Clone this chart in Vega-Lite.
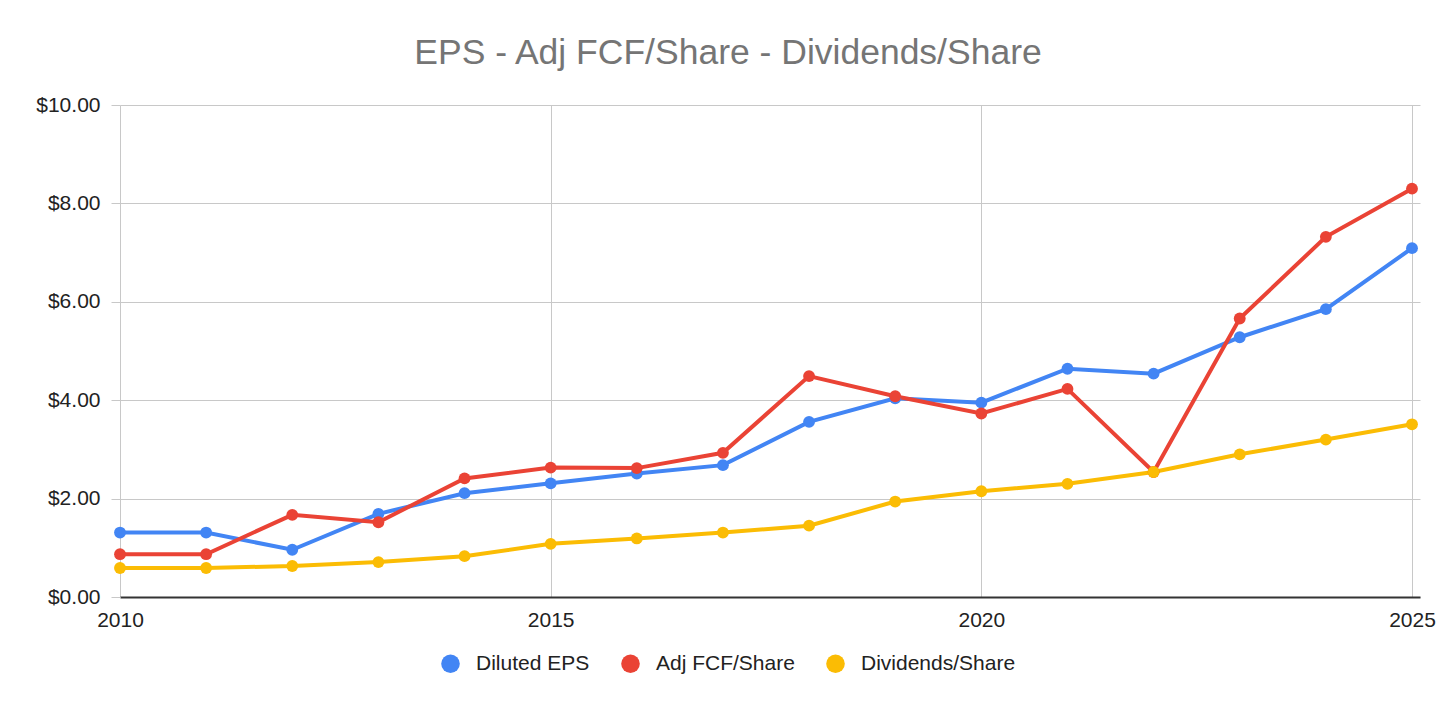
{
  "$schema": "https://vega.github.io/schema/vega-lite/v6.json",
  "width": 1300,
  "height": 492,
  "autosize": {"type": "none"},
  "padding": {"left": 120, "top": 105, "right": 36, "bottom": 113},
  "background": "white",
  "title": {
    "text": "EPS - Adj FCF/Share - Dividends/Share",
    "font": "Liberation Sans",
    "fontSize": 35.5,
    "fontWeight": "normal",
    "color": "#757575",
    "anchor": "middle",
    "dx": -42,
    "offset": 23
  },
  "data": {
    "values": [
      {"year": 2010, "series": "Diluted EPS", "value": 1.31},
      {"year": 2011, "series": "Diluted EPS", "value": 1.31},
      {"year": 2012, "series": "Diluted EPS", "value": 0.96},
      {"year": 2013, "series": "Diluted EPS", "value": 1.69},
      {"year": 2014, "series": "Diluted EPS", "value": 2.11},
      {"year": 2015, "series": "Diluted EPS", "value": 2.31},
      {"year": 2016, "series": "Diluted EPS", "value": 2.51},
      {"year": 2017, "series": "Diluted EPS", "value": 2.68},
      {"year": 2018, "series": "Diluted EPS", "value": 3.56},
      {"year": 2019, "series": "Diluted EPS", "value": 4.04},
      {"year": 2020, "series": "Diluted EPS", "value": 3.95},
      {"year": 2021, "series": "Diluted EPS", "value": 4.64},
      {"year": 2022, "series": "Diluted EPS", "value": 4.54},
      {"year": 2023, "series": "Diluted EPS", "value": 5.28},
      {"year": 2024, "series": "Diluted EPS", "value": 5.85},
      {"year": 2025, "series": "Diluted EPS", "value": 7.09},
      {"year": 2010, "series": "Adj FCF/Share", "value": 0.87},
      {"year": 2011, "series": "Adj FCF/Share", "value": 0.87},
      {"year": 2012, "series": "Adj FCF/Share", "value": 1.67},
      {"year": 2013, "series": "Adj FCF/Share", "value": 1.52},
      {"year": 2014, "series": "Adj FCF/Share", "value": 2.41},
      {"year": 2015, "series": "Adj FCF/Share", "value": 2.63},
      {"year": 2016, "series": "Adj FCF/Share", "value": 2.62},
      {"year": 2017, "series": "Adj FCF/Share", "value": 2.93},
      {"year": 2018, "series": "Adj FCF/Share", "value": 4.49},
      {"year": 2019, "series": "Adj FCF/Share", "value": 4.08},
      {"year": 2020, "series": "Adj FCF/Share", "value": 3.73},
      {"year": 2021, "series": "Adj FCF/Share", "value": 4.23},
      {"year": 2022, "series": "Adj FCF/Share", "value": 2.54},
      {"year": 2023, "series": "Adj FCF/Share", "value": 5.66},
      {"year": 2024, "series": "Adj FCF/Share", "value": 7.32},
      {"year": 2025, "series": "Adj FCF/Share", "value": 8.30},
      {"year": 2010, "series": "Dividends/Share", "value": 0.59},
      {"year": 2011, "series": "Dividends/Share", "value": 0.59},
      {"year": 2012, "series": "Dividends/Share", "value": 0.63},
      {"year": 2013, "series": "Dividends/Share", "value": 0.71},
      {"year": 2014, "series": "Dividends/Share", "value": 0.83},
      {"year": 2015, "series": "Dividends/Share", "value": 1.08},
      {"year": 2016, "series": "Dividends/Share", "value": 1.19},
      {"year": 2017, "series": "Dividends/Share", "value": 1.31},
      {"year": 2018, "series": "Dividends/Share", "value": 1.45},
      {"year": 2019, "series": "Dividends/Share", "value": 1.94},
      {"year": 2020, "series": "Dividends/Share", "value": 2.15},
      {"year": 2021, "series": "Dividends/Share", "value": 2.30},
      {"year": 2022, "series": "Dividends/Share", "value": 2.54},
      {"year": 2023, "series": "Dividends/Share", "value": 2.90},
      {"year": 2024, "series": "Dividends/Share", "value": 3.20},
      {"year": 2025, "series": "Dividends/Share", "value": 3.51}
    ]
  },
  "encoding": {
    "x": {
      "field": "year",
      "type": "quantitative",
      "scale": {"domain": [2010, 2025.093], "nice": false, "zero": false},
      "axis": {
        "title": null,
        "values": [2010, 2015, 2020, 2025],
        "format": "d",
        "ticks": false,
        "labelFlush": false,
        "labelPadding": 12,
        "grid": true,
        "gridColor": "#c8c8c8",
        "domainColor": "#333333",
        "domainWidth": 2
      }
    },
    "y": {
      "field": "value",
      "type": "quantitative",
      "scale": {"domain": [0, 10], "nice": false},
      "axis": {
        "title": null,
        "values": [0, 2, 4, 6, 8, 10],
        "format": "$.2f",
        "domain": false,
        "tickSize": 9,
        "tickColor": "#c8c8c8",
        "labelPadding": 11,
        "grid": true,
        "gridColor": "#c8c8c8"
      }
    },
    "color": {
      "field": "series",
      "type": "nominal",
      "scale": {
        "domain": ["Diluted EPS", "Adj FCF/Share", "Dividends/Share"],
        "range": ["#4285F4", "#EA4335", "#FBBC04"]
      },
      "legend": {
        "title": null,
        "orient": "none",
        "direction": "horizontal",
        "legendX": 320,
        "legendY": 548,
        "symbolType": "circle",
        "symbolSize": 346,
        "symbolStrokeWidth": 0,
        "labelOffset": 15,
        "columnPadding": 30
      }
    }
  },
  "layer": [
    {"mark": {"type": "line", "strokeWidth": 4}},
    {"mark": {"type": "point", "filled": true, "opacity": 1, "size": 140}}
  ],
  "config": {
    "view": {"stroke": null},
    "font": "Liberation Sans",
    "axis": {
      "labelFont": "Liberation Sans",
      "labelFontSize": 21,
      "labelColor": "#222222"
    },
    "legend": {
      "labelFont": "Liberation Sans",
      "labelFontSize": 21,
      "labelColor": "#222222"
    }
  }
}
